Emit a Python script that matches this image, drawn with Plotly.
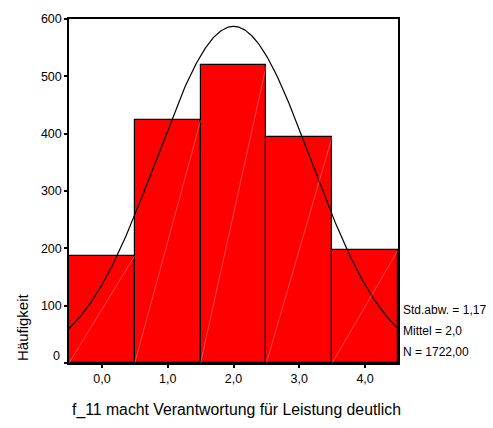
import numpy as np
import plotly.graph_objects as go

# Histogram of item f_11 (SPSS style)
categories = [0, 1, 2, 3, 4]
counts = [187, 423, 520, 395, 197]
x_tick_labels = ["0,0", "1,0", "2,0", "3,0", "4,0"]
y_ticks = [0, 100, 200, 300, 400, 500, 600]
y_tick_labels = ["", "100", "200", "300", "400", "500", "600"]

std_dev = 1.17
mean = 2.0
n_total = 1722

stats_lines = ["Std.abw. = 1,17", "Mittel = 2,0", "N = 1722,00"]

FONT = "Liberation Sans, Arial, sans-serif"

fig = go.Figure()

fig.add_trace(go.Bar(
    x=categories, y=counts, width=1.0,
    marker=dict(color="#FF0000", line=dict(color="black", width=1.2)),
    hoverinfo="skip", showlegend=False,
))

# Fitted normal curve scaled to the counts (bin width 1)
xs = np.linspace(-0.5, 4.5, 400)
ys = n_total / (std_dev * np.sqrt(2 * np.pi)) * np.exp(-0.5 * ((xs - mean) / std_dev) ** 2)
fig.add_trace(go.Scatter(
    x=xs, y=ys, mode="lines", line=dict(color="black", width=1.2),
    hoverinfo="skip", showlegend=False,
))

# Faint diagonal fill streak in each bar
for c, v in zip(categories, counts):
    fig.add_shape(type="line", x0=c - 0.5, y0=0, x1=c + 0.5, y1=v,
                  xref="x", yref="y",
                  line=dict(color="rgba(255,170,170,0.6)", width=0.7))

fig.update_xaxes(
    range=[-0.5, 4.5], tickvals=categories, ticktext=x_tick_labels,
    showline=True, linecolor="black", linewidth=1.5, mirror=True,
    ticks="outside", ticklen=3, tickwidth=2, tickcolor="black",
    showgrid=False, zeroline=False,
    tickfont=dict(family=FONT, size=12.5, color="black"),
)
fig.update_yaxes(
    range=[0, 600], tickvals=y_ticks, ticktext=y_tick_labels,
    showline=True, linecolor="black", linewidth=1.5, mirror=True,
    ticks="outside", ticklen=3, tickwidth=2, tickcolor="black",
    showgrid=False, zeroline=False,
    tickfont=dict(family=FONT, size=12.5, color="black"),
)

annotations = [
    dict(text="f_11 macht Verantwortung für Leistung deutlich",
         xref="paper", yref="paper", x=0.5, xshift=3, y=0, yshift=-36,
         xanchor="center", yanchor="top", showarrow=False,
         font=dict(family=FONT, size=15.8, color="black")),
    dict(text="Häufigkeit", xref="paper", yref="y", x=0, xshift=-47,
         y=0, yanchor="bottom", xanchor="center", textangle=-90,
         showarrow=False, font=dict(family=FONT, size=15, color="black")),
    # zero label of the count axis sits slightly above its tick
    dict(text="0", xref="paper", yref="y", x=0, xshift=-7, y=0, yshift=7,
         xanchor="right", yanchor="middle", showarrow=False,
         font=dict(family=FONT, size=12.5, color="black")),
]
for i, line in enumerate(stats_lines):
    annotations.append(dict(
        text=line, xref="paper", yref="y", x=1, xshift=3,
        y=0, yshift=11 + (2 - i) * 21, xanchor="left", yanchor="middle",
        showarrow=False, font=dict(family=FONT, size=12, color="black")))

fig.update_layout(
    width=493, height=428,
    margin=dict(l=69, r=95, t=16, b=65),
    paper_bgcolor="white", plot_bgcolor="white",
    bargap=0, annotations=annotations,
)

fig.write_html("out.html")
